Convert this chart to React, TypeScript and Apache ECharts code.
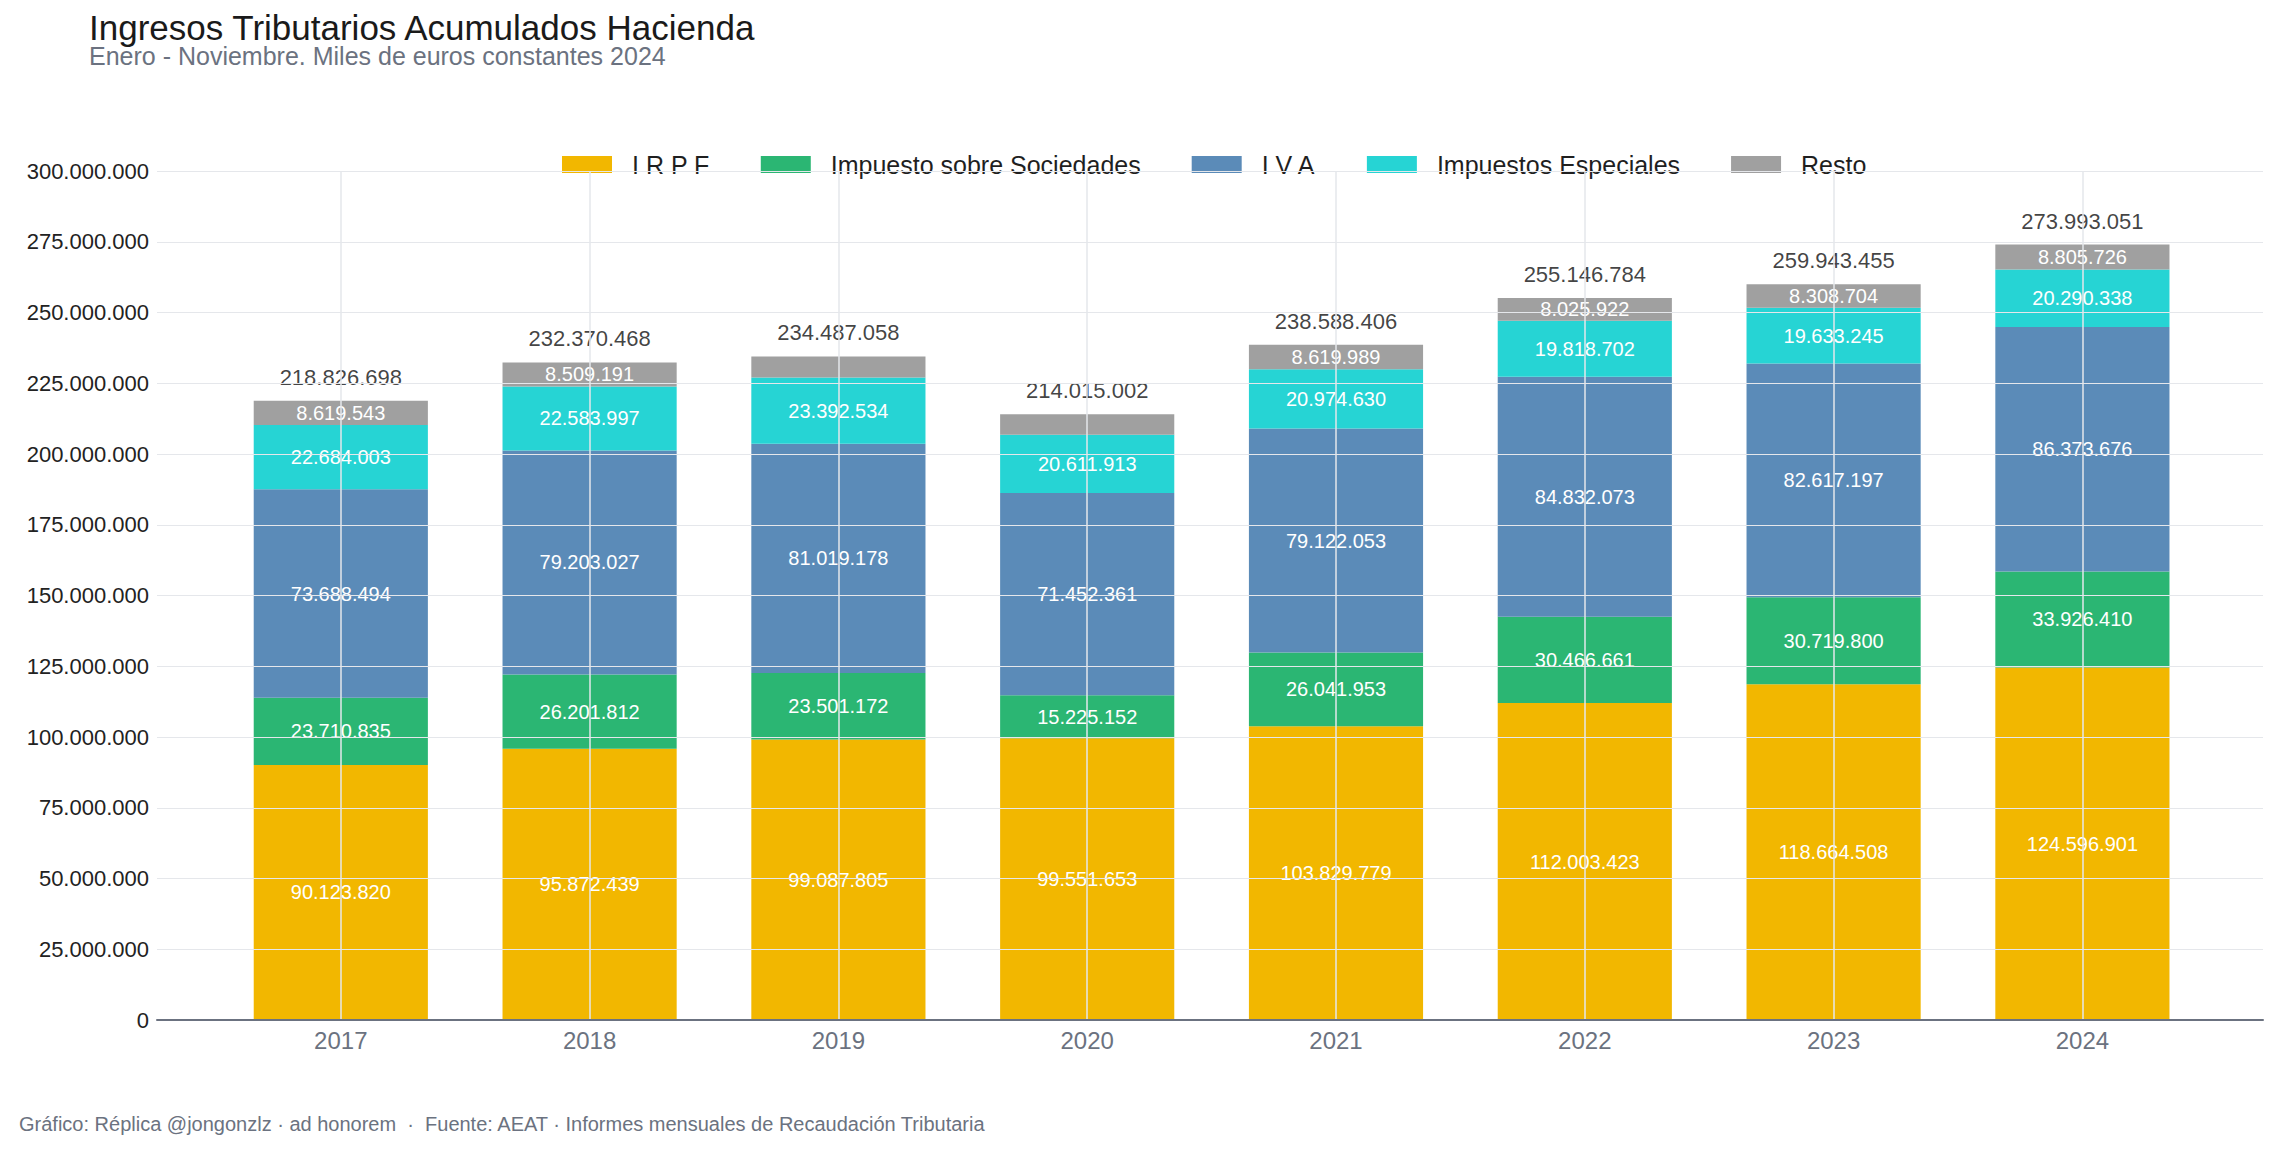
import React, { useEffect, useRef } from "react";
import * as echarts from "echarts";

const years = ["2017", "2018", "2019", "2020", "2021", "2022", "2023", "2024"];
const irpf = [90123820, 95872439, 99087805, 99551653, 103829779, 112003423, 118664508, 124596901];
const sociedades = [23710835, 26201812, 23501172, 15225152, 26041953, 30466661, 30719800, 33926410];
const iva = [73688494, 79203027, 81019178, 71452361, 79122053, 84832073, 82617197, 86373676];
const especiales = [22684003, 22583997, 23392534, 20611913, 20974630, 19818702, 19633245, 20290338];
const resto = [8619543, 8509191, 7486369, 7173923, 8619989, 8025922, 8308704, 8805726];
const totals = [218826698, 232370468, 234487058, 214015002, 238588406, 255146784, 259943455, 273993051];

const seriesNames = ["I R P F", "Impuesto sobre Sociedades", "I V A", "Impuestos Especiales", "Resto"];
const seriesColors = ["#F2B700", "#2BB673", "#5B8BB8", "#26D4D4", "#A0A0A0"];
const seriesData = [irpf, sociedades, iva, especiales, resto];

const FONT = "'Liberation Sans', Arial, Helvetica, sans-serif";

const fmt = (n: number) => Math.round(n).toString().replace(/\B(?=(\d{3})+(?!\d))/g, ".");

export default function App() {
  const ref = useRef<HTMLDivElement>(null);
  useEffect(() => {
    if (!ref.current) return;
    const chart = echarts.init(ref.current, undefined, { renderer: "svg" });
    const gridTop = 171;
    const gridBottom = 131;
    const option: any = {
      animation: false,
      backgroundColor: "#ffffff",
      textStyle: { fontFamily: FONT },
      title: [
        {
          text: "Ingresos Tributarios Acumulados Hacienda",
          left: 89,
          top: 10,
          padding: 0,
          textStyle: { fontSize: 35, fontWeight: "normal", color: "#1a1a1a", fontFamily: FONT },
        },
        {
          text: "Enero - Noviembre. Miles de euros constantes 2024",
          left: 89,
          top: 43,
          padding: 0,
          textStyle: { fontSize: 25, fontWeight: "normal", color: "#6b7280", fontFamily: FONT },
        },
        {
          text: "Gráfico: Réplica @jongonzlz · ad honorem  ·  Fuente: AEAT · Informes mensuales de Recaudación Tributaria",
          left: 19,
          top: 1114,
          padding: 0,
          textStyle: { fontSize: 20, fontWeight: "normal", color: "#6b7280", fontFamily: FONT },
        },
      ],
      legend: {
        data: seriesNames,
        left: 562,
        top: 152,
        padding: 0,
        icon: "rect",
        itemWidth: 50,
        itemHeight: 17,
        itemGap: 51,
        textStyle: { fontSize: 25, color: "#1f1f1f", fontFamily: FONT, padding: [2, 0, 0, 15] },
      },
      grid: [
        { left: 157, right: 19, top: gridTop, bottom: gridBottom },
        { left: 216.4, right: 75.2, top: gridTop, bottom: gridBottom },
      ],
      xAxis: [
        {
          gridIndex: 0,
          type: "value",
          min: 0,
          max: 1,
          axisLine: { show: true, lineStyle: { color: "#6b7280", width: 2 } },
          axisTick: { show: false },
          axisLabel: { show: false },
          splitLine: { show: false },
          z: 6,
        },
        {
          gridIndex: 1,
          type: "category",
          data: years,
          axisLine: { show: false },
          axisTick: { show: false },
          axisLabel: { fontSize: 24, color: "#6b7280", margin: 8, fontFamily: FONT, interval: 0 },
          splitLine: { show: true, alignWithLabel: true, interval: 0, lineStyle: { color: "#e5e7eb", width: 1.5 } },
          z: 5,
        },
      ],
      yAxis: [
        {
          gridIndex: 0,
          type: "value",
          min: 0,
          max: 300000000,
          interval: 25000000,
          axisLine: { show: false },
          axisTick: { show: false },
          axisLabel: { fontSize: 22, color: "#222222", margin: 8, fontFamily: FONT, formatter: (v: number) => fmt(v) },
          splitLine: { show: true, lineStyle: { color: "#e5e7eb", width: 1 } },
          z: 5,
        },
        {
          gridIndex: 1,
          type: "value",
          min: 0,
          max: 300000000,
          interval: 25000000,
          show: false,
          splitLine: { show: false },
        },
      ],
      series: [
        ...seriesNames.map((name, i) => ({
          name,
          type: "bar",
          stack: "total",
          xAxisIndex: 1,
          yAxisIndex: 1,
          barWidth: "70%",
          data: seriesData[i],
          itemStyle: { color: seriesColors[i] },
          label: {
            show: true,
            position: "inside",
            color: "#ffffff",
            fontSize: 20,
            fontFamily: FONT,
            formatter: (p: any) => (p.value >= 7800000 ? fmt(p.value) : ""),
          },
          z: 2,
        })),
        {
          name: "Total",
          type: "scatter",
          xAxisIndex: 1,
          yAxisIndex: 1,
          data: totals,
          symbolSize: 1,
          itemStyle: { color: "rgba(0,0,0,0)" },
          label: {
            show: true,
            position: "top",
            distance: 12,
            color: "#111111",
            fontSize: 22,
            fontFamily: FONT,
            formatter: (p: any) => fmt(p.value),
          },
          z: 3,
        },
      ],
    };
    chart.setOption(option);
    return () => chart.dispose();
  }, []);
  return (
    <div
      ref={ref}
      style={{ position: "fixed", left: 0, top: 0, width: "2282px", height: "1151px", background: "#fff" }}
    />
  );
}
